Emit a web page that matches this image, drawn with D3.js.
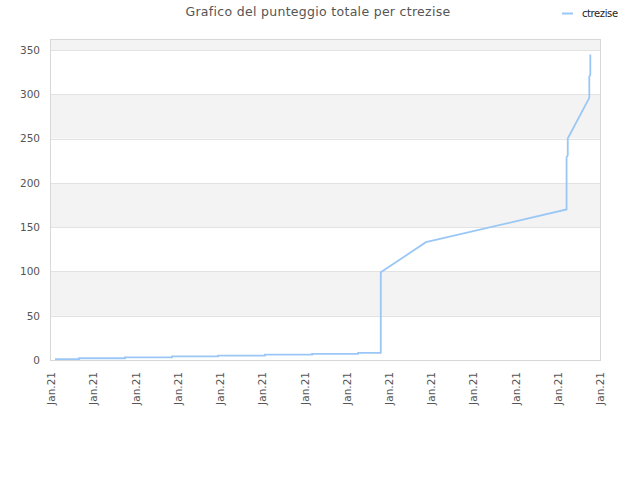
<!DOCTYPE html>
<html>
<head>
<meta charset="utf-8">
<script src="https://cdn.jsdelivr.net/npm/d3@7"></script>
<style>
  body { margin: 0; background: #fff; }
  svg text { font-family: "DejaVu Sans", sans-serif; }
</style>
</head>
<body>
<div class="container"></div>
<script>
// dati
var seriesName = "ctrezise";
var titleText = "Grafico del punteggio totale per ctrezise";
var dates = [
  "2021-01-01T04:30", "2021-01-02T07:50", "2021-01-02T07:50", "2021-01-04T12:00",
  "2021-01-04T12:00", "2021-01-06T17:30", "2021-01-06T17:30", "2021-01-08T21:50",
  "2021-01-08T21:50", "2021-01-11T03:10", "2021-01-11T03:10", "2021-01-13T08:40",
  "2021-01-13T08:40", "2021-01-15T13:00", "2021-01-15T13:00", "2021-01-16T14:50",
  "2021-01-16T14:50", "2021-01-18T18:10", "2021-01-25T10:00", "2021-01-25T10:00",
  "2021-01-25T11:20", "2021-01-25T11:20", "2021-01-26T11:50", "2021-01-26T11:50",
  "2021-01-26T13:00", "2021-01-26T13:00"
];
var scores = [
  1, 1, 2, 2,
  3, 3, 4, 4,
  5, 5, 6, 6,
  7, 7, 8, 8,
  99, 133, 170, 229,
  231, 250, 296, 320,
  322, 345
];
var yTicks = [0, 50, 100, 150, 200, 250, 300, 350];
var xStart = "2021-01-01T00:00";
var xEnd = "2021-01-27T00:00";

var parse = d3.timeParse("%Y-%m-%dT%H:%M");
var data = dates.map(function(d, i) { return {date: parse(d), value: scores[i]}; });

// dimensioni
var svg_w = 640, svg_h = 480;
var margin = {top: 40, right: 40, bottom: 120, left: 51};
var width = svg_w - margin.left - margin.right;
var height = svg_h - margin.top - margin.bottom;

var svg = d3.select(".container")
  .append("svg")
  .attr("width", svg_w)
  .attr("height", svg_h);

var vis = svg.append("g")
  .attr("transform", "translate(" + margin.left + "," + margin.top + ")");

var x = d3.scaleTime()
  .domain([parse(xStart), parse(xEnd)])
  .range([0, width]);

var y = d3.scaleLinear()
  .domain([0, 350])
  .range([height, 10]);

var yTop = y.invert(0);

// bande alternate
var bands = [];
for (var k = 0; k < yTicks.length; k++) {
  var lo = yTicks[k], hi = k + 1 < yTicks.length ? yTicks[k + 1] : yTop;
  if (k % 2 === 1) bands.push([lo, hi]);
}
vis.selectAll(".band")
  .data(bands)
  .enter()
  .append("rect")
  .attr("class", "band")
  .attr("x", 0)
  .attr("width", width)
  .attr("y", function(d) { return y(d[1]); })
  .attr("height", function(d) { return y(d[0]) - y(d[1]); })
  .style("fill", "#f3f3f3");

// griglia
vis.selectAll(".grid")
  .data(yTicks.slice(1))
  .enter()
  .append("line")
  .attr("x1", 0)
  .attr("x2", width)
  .attr("y1", function(d) { return Math.round(y(d)) + 0.5; })
  .attr("y2", function(d) { return Math.round(y(d)) + 0.5; })
  .style("stroke", "#e2e2e2");

// bordo
vis.append("rect")
  .attr("x", -0.5)
  .attr("y", -0.5)
  .attr("width", width + 1)
  .attr("height", height + 1)
  .style("fill", "none")
  .style("stroke", "#d8d8d8");

// assi
var yAxis = d3.axisLeft(y).tickValues(yTicks).tickSize(0).tickPadding(11);
var gy = vis.append("g").call(yAxis);
gy.select(".domain").remove();
gy.selectAll("text")
  .style("font-size", "10.5px")
  .style("fill", "#555")
  .style("font-family", "DejaVu Sans");

var xTicks = d3.range(14).map(function(i) { return d3.timeDay.offset(parse(xStart), i * 2); });
var xAxis = d3.axisBottom(x).tickValues(xTicks).tickSize(0).tickFormat(d3.timeFormat("%b.%y"));
var gx = vis.append("g")
  .attr("transform", "translate(0," + height + ")")
  .call(xAxis);
gx.select(".domain").remove();
gx.selectAll("text")
  .attr("transform", "rotate(-90)")
  .attr("x", -12)
  .attr("y", 0)
  .attr("dy", "0.35em")
  .style("text-anchor", "end")
  .style("font-size", "10.5px")
  .style("fill", "#555")
  .style("font-family", "DejaVu Sans");

// linea
var line = d3.line()
  .x(function(d) { return x(d.date); })
  .y(function(d) { return y(d.value); });

vis.append("path")
  .datum(data)
  .attr("d", line)
  .style("fill", "none")
  .style("stroke", "#9ac7f5")
  .style("stroke-width", 1.8);

// titolo
svg.append("text")
  .attr("x", 318)
  .attr("y", 16)
  .style("text-anchor", "middle")
  .style("font-size", "12.5px")
  .style("letter-spacing", "0.3px")
  .style("fill", "#555")
  .text(titleText);

// legenda
var legend = svg.append("g").attr("transform", "translate(562,13)");
legend.append("line")
  .attr("x1", 0).attr("x2", 11)
  .attr("y1", 0.5).attr("y2", 0.5)
  .style("stroke", "#9ac7f5")
  .style("stroke-width", 2);
legend.append("text")
  .attr("x", 20)
  .attr("y", 0)
  .attr("dy", "0.35em")
  .style("font-size", "10px")
  .style("letter-spacing", "-0.4px")
  .style("fill", "#222")
  .text(seriesName);
</script>
</body>
</html>
